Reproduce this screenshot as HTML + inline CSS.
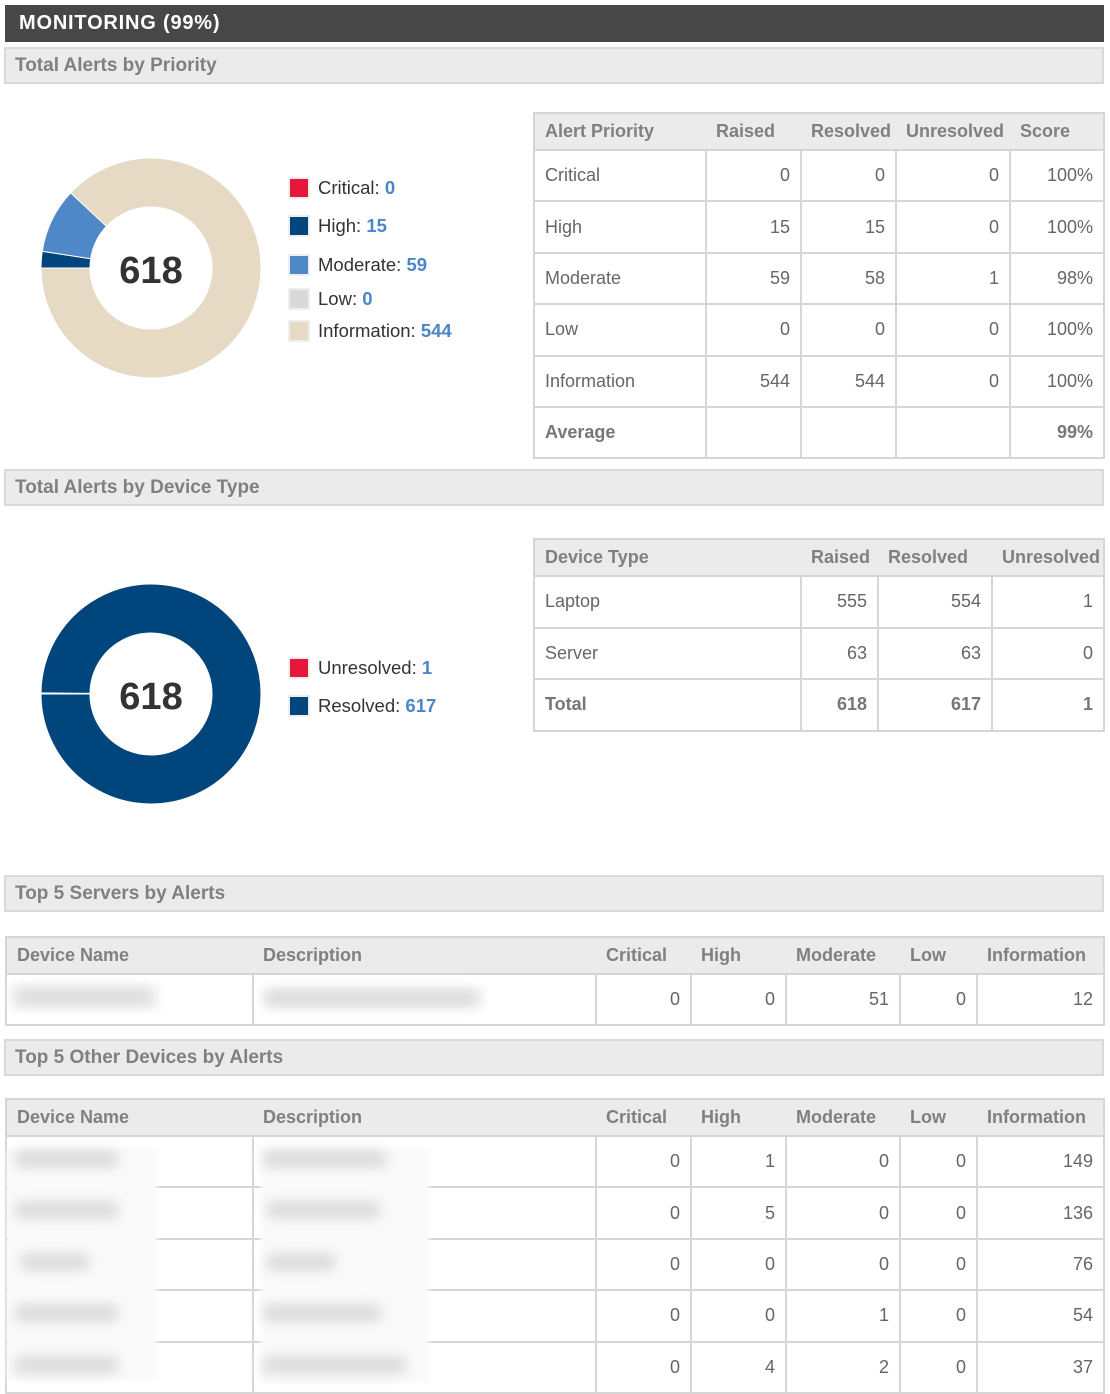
<!DOCTYPE html>
<html><head><meta charset="utf-8">
<style>
*{box-sizing:border-box;margin:0;padding:0}
body{width:1110px;height:1392px;background:#fff;font-family:"Liberation Sans",Arial,sans-serif;position:relative;overflow:hidden;color:#555}
.abs{position:absolute}
.topbar{left:5px;top:5px;width:1099px;height:37px;background:#474747;color:#fff;font-weight:bold;font-size:20px;line-height:37px;padding-left:14px;letter-spacing:0.8px}
.sec{left:4px;width:1100px;height:37px;background:#ebebeb;border:2px solid #d9d9d9;color:#808080;font-weight:bold;font-size:19px;line-height:33px;padding-left:9px}
table{position:absolute;border-collapse:collapse;table-layout:fixed;font-size:18px}
td,th{border:2px solid #d6d6d6;padding:0 10px;white-space:nowrap;overflow:hidden}
th{background:#ebebeb;color:#808080;text-align:left;font-weight:bold;border-left:none;border-right:none}
th:first-child{border-left:2px solid #d6d6d6}
th:last-child{border-right:2px solid #d6d6d6}
td{text-align:right;color:#666}
td.l{text-align:left}
tr.b td{font-weight:bold;color:#777}
.legend{font-size:18.5px;color:#333}
.legend .it{position:absolute;left:0;white-space:nowrap;height:24px;line-height:24px}
.legend .sw{position:absolute;left:0;top:1px;width:22px;height:22px;border:2px solid #eee}
.legend .tx{position:absolute;left:30px;top:0}
.legend .v{color:#4a86c8;font-weight:bold}
.veil{position:absolute;background:#fafafa;filter:blur(2px)}
.blur{position:absolute;background:#c8c8c8;filter:blur(6px);opacity:.6;height:18px;border-radius:8px}
.center{font-weight:bold;font-size:38px;fill:#333;text-anchor:middle}
</style></head>
<body>
<div class="abs topbar">MONITORING (99%)</div>
<div class="abs sec" style="top:47px">Total Alerts by Priority</div>
<div class="abs sec" style="top:469px">Total Alerts by Device Type</div>
<div class="abs sec" style="top:875px">Top 5 Servers by Alerts</div>
<div class="abs sec" style="top:1039px">Top 5 Other Devices by Alerts</div>

<svg class="abs" style="left:0;top:0" width="300" height="900">
<g id="d1"></g>
<text class="center" x="151" y="283">618</text>
<g id="d2"></g>
<text class="center" x="151" y="709">618</text>
</svg>
<div class="abs legend" id="lg1" style="left:288px;top:0"></div>
<div class="abs legend" id="lg2" style="left:288px;top:0"></div>

<div id="tables"></div>

<script>
const priorityLabels=["Critical","High","Moderate","Low","Information"];
const priorityValues=[0,15,59,0,544];
const priorityColors=["#e5173a","#00457c","#4f88c8","#d9d9d9","#e6dac4"];
const statusLabels=["Unresolved","Resolved"];
const statusValues=[1,617];
const statusColors=["#e5173a","#00457c"];

const NS="http://www.w3.org/2000/svg";
function donut(g,vals,cols,cx,cy,ro,ri,names){
  const tot=vals.reduce((a,b)=>a+b,0);
  let a=-Math.PI;
  vals.forEach((v,i)=>{
    const sweep=v/tot*2*Math.PI;
    if(v<=0){return;}
    const a2=a+sweep, lg=sweep>Math.PI?1:0;
    const p=(r,t)=>[cx+r*Math.cos(t),cy+r*Math.sin(t)];
    const [x1,y1]=p(ro,a),[x2,y2]=p(ro,a2),[x3,y3]=p(ri,a2),[x4,y4]=p(ri,a);
    const path=document.createElementNS(NS,"path");
    path.setAttribute("d",`M${x1} ${y1}A${ro} ${ro} 0 ${lg} 1 ${x2} ${y2}L${x3} ${y3}A${ri} ${ri} 0 ${lg} 0 ${x4} ${y4}Z`);
    path.setAttribute("fill",cols[i]);
    path.setAttribute("stroke","#fff");
    path.setAttribute("stroke-width","1");
    
    
    g.appendChild(path);
    a=a2;
  });
}
donut(document.getElementById("d1"),priorityValues,priorityColors,151,268,110,61,priorityLabels);
donut(document.getElementById("d2"),statusValues,statusColors,151,694,110,61,statusLabels);

function legend(el,labels,vals,cols,tops){
  labels.forEach((l,i)=>{
    const it=document.createElement("div");
    it.className="it";it.style.top=tops[i]+"px";
    
    
    it.innerHTML=`<span class="sw" style="background:${cols[i]}"></span><span class="tx">${l}: <span class="v">${vals[i]}</span></span>`;
    el.appendChild(it);
  });
}
legend(document.getElementById("lg1"),priorityLabels,priorityValues,priorityColors,[176,214,253,287,319]);
legend(document.getElementById("lg2"),statusLabels,statusValues,statusColors,[656,694]);

const t1Head=["Alert Priority","Raised","Resolved","Unresolved","Score"];
const t1Rows=[["Critical",0,0,0,"100%"],["High",15,15,0,"100%"],["Moderate",59,58,1,"98%"],["Low",0,0,0,"100%"],["Information",544,544,0,"100%"],["Average","","","","99%"]];
const t2Head=["Device Type","Raised","Resolved","Unresolved"];
const t2Rows=[["Laptop",555,554,1],["Server",63,63,0],["Total",618,617,1]];
const t3Head=["Device Name","Description","Critical","High","Moderate","Low","Information"];
const t3Rows=[["","",0,0,51,0,12]];
const t4Rows=[["","",0,1,0,0,149],["","",0,5,0,0,136],["","",0,0,0,0,76],["","",0,0,1,0,54],["","",0,4,2,0,37]];

function table(name,left,top,widths,head,rows,boldLast,hh,rh){
  const t=document.createElement("table");
  t.style.left=left+"px";t.style.top=top+"px";
  t.style.width=widths.reduce((a,b)=>a+b,0)+"px";
  
  
  const cg=document.createElement("colgroup");
  widths.forEach(w=>{const c=document.createElement("col");c.style.width=w+"px";cg.appendChild(c);});
  t.appendChild(cg);
  const tr=document.createElement("tr");tr.style.height=hh+"px";
  head.forEach(h=>{const th=document.createElement("th");th.textContent=h;
    
    
    tr.appendChild(th);});
  t.appendChild(tr);
  rows.forEach((r,ri)=>{
    const row=document.createElement("tr");row.style.height=rh+"px";
    if(boldLast&&ri==rows.length-1)row.className="b";
    
    
    r.forEach((v,ci)=>{const td=document.createElement("td");td.textContent=v;if(ci==0||(head[1]=="Description"&&ci==1))td.className="l";row.appendChild(td);});
    t.appendChild(row);
  });
  document.getElementById("tables").appendChild(t);
}
table("priority-table",533,112,[172,95,95,114,94],t1Head,t1Rows,true,37,51.4);
table("device-type-table",533,538,[267,77,114,112],t2Head,t2Rows,true,37,51.5);
table("top-servers-table",5,936,[247,343,95,95,114,77,127],t3Head,t3Rows,false,37,51);
table("top-other-devices-table",5,1098,[247,343,95,95,114,77,127],t3Head,t4Rows,false,37,51.4);

function veils(list){
  list.forEach(b=>{const d=document.createElement("div");d.className="veil";
    d.style.left=b[0]+"px";d.style.top=b[1]+"px";d.style.width=b[2]+"px";d.style.height=b[3]+"px";
    
    
    document.body.appendChild(d);});
}
veils([[7,1148,150,232],[261,1148,168,235],[9,983,152,28],[263,987,222,22]]);
function blurs(list){
  list.forEach(b=>{const d=document.createElement("div");d.className="blur";
    d.style.left=b[0]+"px";d.style.top=b[1]+"px";d.style.width=b[2]+"px";
    
    
    document.body.appendChild(d);});
}
blurs([[14,988,140],[264,989,215],
 [14,1150,105],[262,1150,125],
 [14,1201,105],[266,1201,115],
 [20,1253,70],[266,1253,70],
 [14,1304,105],[262,1304,120],
 [14,1356,105],[262,1356,145]]);
</script>
</body></html>
